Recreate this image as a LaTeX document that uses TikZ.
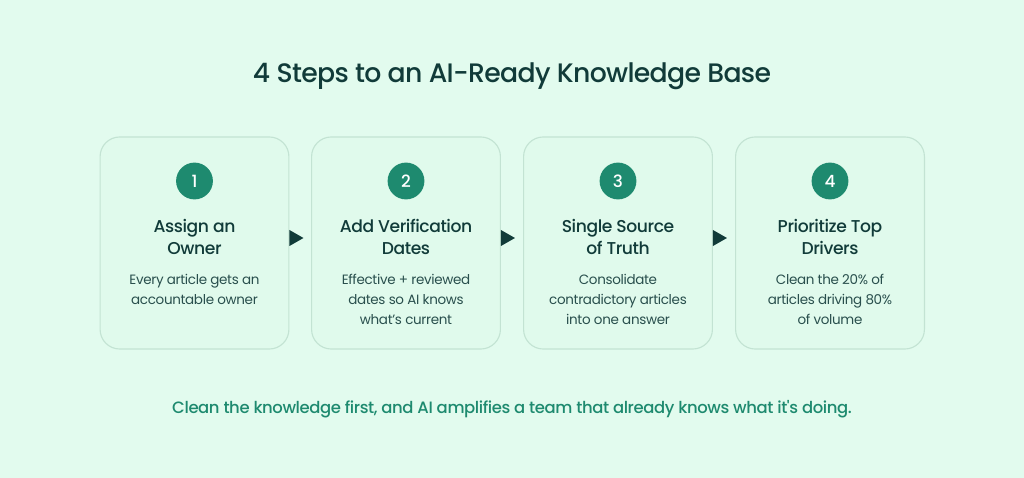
\documentclass[tikz,border=0pt]{standalone}
\usepackage{fontspec}
\setmainfont{Poppins}[LetterSpace=-2.5]
\newfontfamily\medfont{Poppins Medium}[LetterSpace=-2.5]
\usepackage{tikz}
\usetikzlibrary{positioning,arrows.meta}
\definecolor{mint}{HTML}{E2FBEE}
\definecolor{cardbg}{HTML}{E0FAEC}
\definecolor{cardline}{HTML}{C3E3D3}
\definecolor{teal}{HTML}{1E8A6F}
\definecolor{ink}{HTML}{113B39}

\begin{document}
\begin{tikzpicture}[x=0.025cm,y=-0.025cm,
  card/.style={draw=cardline,line width=.8pt,fill=cardbg,rounded corners=14pt,minimum width=4.72cm,minimum height=5.3cm},
  num/.style={circle,fill=teal,text=white,minimum size=0.92cm,inner sep=0pt,font=\medfont\fontsize{12}{14}\selectfont},
  head/.style={text=ink,align=center,font=\medfont\fontsize{12.2}{15}\selectfont},
  desc/.style={text=ink!90,align=center,font=\fontsize{9.6}{14.2}\selectfont},
  pointer/.style={fill=ink,draw=none}]
  \useasboundingbox[fill=mint] (0,0) rectangle (1024,478);
  \node[text=ink,font=\medfont\fontsize{19}{22}\selectfont] (title) at (512,76) {4 Steps to an AI-Ready Knowledge Base};
  % cards
  \node[card] (c1) at (194.5,243) {};
  \node[card] (c2) at (406,243) {};
  \node[card] (c3) at (618,243) {};
  \node[card] (c4) at (830,243) {};
  % numbers
  \node[num] (n1) at (194.5,181) {1};
  \node[num] (n2) at (406,181) {2};
  \node[num] (n3) at (618,181) {3};
  \node[num] (n4) at (830,181) {4};
  % headings
  \node[head] (h1) at (194.5,237) {Assign an\\Owner};
  \node[head] (h2) at (406,237) {Add Verification\\Dates};
  \node[head] (h3) at (618,237) {Single Source\\of Truth};
  \node[head] (h4) at (830,237) {Prioritize Top\\Drivers};
  % descriptions
  \node[desc] (d1) at (194.5,289) {Every article gets an\\accountable owner};
  \node[desc] (d2) at (406,299) {Effective + reviewed\\dates so AI knows\\what's current};
  \node[desc] (d3) at (618,299) {Consolidate\\contradictory articles\\into one answer};
  \node[desc] (d4) at (830,299) {Clean the 20\% of\\articles driving 80\%\\of volume};
  % arrows
  \path[pointer] (c1.east) ++(0,-13) -- ++(14,8) -- ++(-14,8) -- cycle;
  \path[pointer] (c2.east) ++(0,-13) -- ++(14,8) -- ++(-14,8) -- cycle;
  \path[pointer] (c3.east) ++(0,-13) -- ++(14,8) -- ++(-14,8) -- cycle;
  \node[text=teal,font=\medfont\fontsize{11.7}{15}\selectfont] (motto) at (512,409) {Clean the knowledge first, and AI amplifies a team that already knows what it's doing.};
\end{tikzpicture}
\end{document}
